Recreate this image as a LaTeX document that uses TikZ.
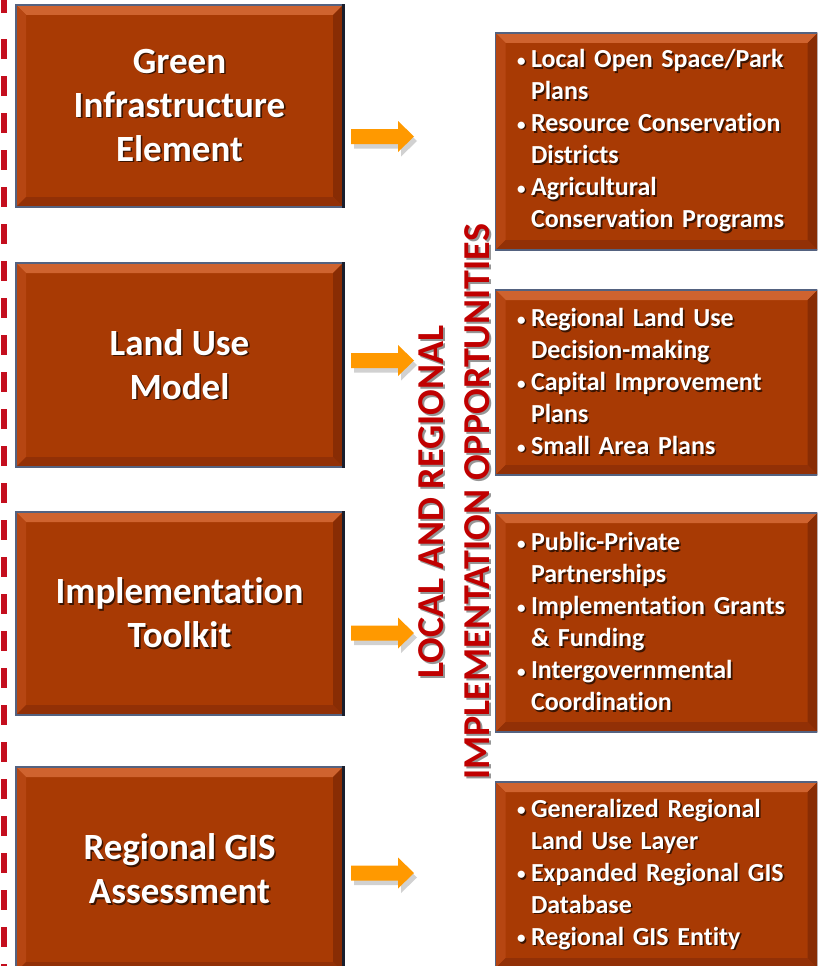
\documentclass[tikz,border=0pt]{standalone}
\usepackage{fontspec}
\setmainfont{Carlito}[Ligatures=NoCommon]
\usetikzlibrary{calc}
\definecolor{rust}{RGB}{168,58,4}
\definecolor{bevtop}{RGB}{214,106,54}
\definecolor{bevleft}{RGB}{182,70,18}
\definecolor{bevright}{RGB}{136,44,4}
\definecolor{bevbot}{RGB}{146,48,6}
\definecolor{edgecol}{RGB}{84,98,128}
\definecolor{edgedark}{RGB}{26,30,44}
\definecolor{arrowor}{RGB}{255,153,0}
\definecolor{titlered}{RGB}{192,0,0}
\definecolor{dashred}{RGB}{196,14,30}
\definecolor{txtshadow}{RGB}{58,20,2}
\definecolor{vshadow}{RGB}{150,150,150}
\newcommand\shd[1]{\leavevmode\rlap{\kern1.6pt\raisebox{-1.6pt}{\textcolor{txtshadow}{#1}}}#1}
\newcommand\vshd[1]{\leavevmode\rlap{\kern-2pt\raisebox{-2pt}{\textcolor{vshadow}{#1}}}#1}
\newcommand\bul{\makebox[14pt][l]{\raisebox{1.5pt}{\fontsize{17}{17}\selectfont\shd{•}}}}
\newcommand\ind{\hspace*{14pt}}
\def\bv{10pt}
\tikzset{
  bevelbox/.style={fill=rust, draw=edgecol, line width=1.2pt, text=white,
    path picture={
      \shade[top color=bevtop!85!rust, bottom color=bevtop] (path picture bounding box.north west) -- (path picture bounding box.north east) -- ([xshift=-\bv,yshift=-\bv]path picture bounding box.north east) -- ([xshift=\bv,yshift=-\bv]path picture bounding box.north west) -- cycle;
      \fill[bevleft] (path picture bounding box.north west) -- ([xshift=\bv,yshift=-\bv]path picture bounding box.north west) -- ([xshift=\bv,yshift=\bv]path picture bounding box.south west) -- (path picture bounding box.south west) -- cycle;
      \fill[bevright] (path picture bounding box.north east) -- ([xshift=-\bv,yshift=-\bv]path picture bounding box.north east) -- ([xshift=-\bv,yshift=\bv]path picture bounding box.south east) -- (path picture bounding box.south east) -- cycle;
      \fill[bevbot] (path picture bounding box.south west) -- ([xshift=\bv,yshift=\bv]path picture bounding box.south west) -- ([xshift=-\bv,yshift=\bv]path picture bounding box.south east) -- (path picture bounding box.south east) -- cycle;
    }},
  leftbox/.style={bevelbox, minimum width=327pt, align=center, inner sep=0pt,
    font=\bfseries\fontsize{37}{44}\selectfont},
  rightbox/.style={bevelbox, minimum width=319pt, text width=279pt, inner xsep=21.5pt, inner ysep=0pt,
    align=left, font=\bfseries\fontsize{26}{32}\selectfont},
  vtitle/.style={rotate=90, align=center, text=titlered, font=\bfseries\fontsize{38}{46}\selectfont, inner sep=0pt},
  darkedge/.style={edgedark, line width=2.5pt},
  blockarrowfill/.style={fill=arrowor},
  blockarrowshadow/.style={fill=black, opacity=0.18}
}
\newcommand\blockarrow[1]{%
  \fill[blockarrowshadow] ($(#1)+(-60,-3)$) -- ++(47,0) -- ++(0,-8) -- ($(#1)+(3,4.5)$) -- ++(-16,15.5) -- ++(0,-8) -- ++(-47,0) -- cycle;
  \fill[blockarrowfill] ($(#1)+(-63,-7.5)$) -- ++(47,0) -- ++(0,-8) -- (#1) -- ++(-16,15.5) -- ++(0,-8) -- ++(-47,0) -- cycle;
}
\begin{document}
\begin{tikzpicture}[x=1pt,y=-1pt]
\useasboundingbox (0,0) rectangle (817,966);
\clip (0,0) rectangle (817,966);
\fill[white] (0,0) rectangle (817,966);

% dashed vertical line
\draw[dashred, line width=5.5pt] (3.8,0) -- (3.8,12.7);
\draw[dashred, line width=5.5pt, dash pattern=on 19.5pt off 17.5pt] (3.8,39.3) -- (3.8,966);

% left boxes
\node[leftbox, minimum height=202pt] (L1) at (179.5,106) {\shd{Green}\\\shd{Infrastructure}\\\shd{Element}};
\node[leftbox, minimum height=204pt] (L2) at (179.5,365) {\shd{Land Use}\\\shd{Model}};
\node[leftbox, minimum height=203pt] (L3) at (179.5,613.5) {\shd{Implementation}\\\shd{Toolkit}};
\node[leftbox, minimum height=205pt] (L4) at (179.5,869.5) {\shd{Regional GIS}\\\shd{Assessment}};

% right boxes
\node[rightbox, minimum height=217pt] (R1) at (656.5,141.5) {\bul\shd{Local Open Space/Park}\\\ind\shd{Plans}\\\bul\shd{Resource Conservation}\\\ind\shd{Districts}\\\bul\shd{Agricultural}\\\ind\shd{Conservation Programs}};
\node[rightbox, minimum height=185pt] (R2) at (656.5,382.5) {\bul\shd{Regional Land Use}\\\ind\shd{Decision-making}\\\bul\shd{Capital Improvement}\\\ind\shd{Plans}\\\bul\shd{Small Area Plans}};
\node[rightbox, minimum height=219pt] (R3) at (656.5,622.5) {\bul\shd{Public-Private}\\\ind\shd{Partnerships}\\\bul\shd{Implementation Grants}\\\ind\shd{\& Funding}\\\bul\shd{Intergovernmental}\\\ind\shd{Coordination}};
\node[rightbox, minimum height=186pt] (R4) at (656.5,875) {\bul\shd{Generalized Regional}\\\ind\shd{Land Use Layer}\\\bul\shd{Expanded Regional GIS}\\\ind\shd{Database}\\\bul\shd{Regional GIS Entity}};

% dark right edges
\foreach \b in {L1,L2,L3,L4,R1,R2,R3,R4}{
  \draw[darkedge] (\b.north east) -- (\b.south east);
}

% arrows
\coordinate (A1) at (414,136.5);
\coordinate (A2) at (414,360.5);
\coordinate (A3) at (414,633);
\coordinate (A4) at (414,873);
\blockarrow{A1}
\blockarrow{A2}
\blockarrow{A3}
\blockarrow{A4}

% vertical title
\node[vtitle] (V) at (455,502) {\vshd{LOCAL AND REGIONAL}\\\vshd{IMPLEMENTATION OPPORTUNITIES}};
\end{tikzpicture}
\end{document}
